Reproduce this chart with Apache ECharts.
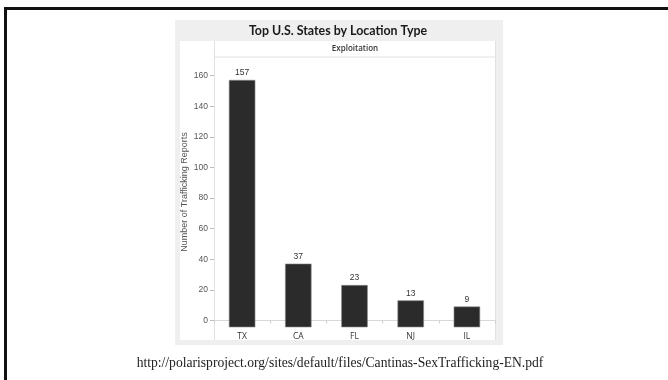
<!DOCTYPE html>
<html>
<head>
<meta charset="utf-8">
<script src="https://cdn.jsdelivr.net/npm/echarts@6/dist/echarts.min.js"></script>
<style>
  html, body { margin: 0; padding: 0; background: #fff; }
  #chart { width: 668px; height: 380px; }
</style>
</head>
<body>
<div id="chart"></div>
<script>
// Top U.S. states for exploitation reports
const states = ['TX', 'CA', 'FL', 'NJ', 'IL'];
const reports = [157, 37, 23, 13, 9];
const yTicks = [0, 20, 40, 60, 80, 100, 120, 140, 160];

const chart = echarts.init(document.getElementById('chart'));

const barData = states.map((s, i) => [i, reports[i]]);

chart.setOption({
  animation: false,
  backgroundColor: '#ffffff',
  graphic: [
    // slide frame (top and left edges)
    { type: 'rect', z: -5, shape: { x: 4, y: 7, width: 664, height: 3 }, style: { fill: '#111' } },
    { type: 'rect', z: -5, shape: { x: 4, y: 7, width: 3, height: 373 }, style: { fill: '#111' } },
    // chart panel
    { type: 'rect', z: -5, shape: { x: 175, y: 20, width: 328, height: 325 }, style: { fill: '#efefef' } },
    { type: 'rect', z: -4, shape: { x: 180, y: 41, width: 34, height: 299 }, style: { fill: '#fff' } },
    { type: 'rect', z: -4, shape: { x: 215, y: 41, width: 280, height: 299 }, style: { fill: '#fff' } },
    { type: 'line', z: -3, shape: { x1: 215, y1: 57, x2: 495, y2: 57 }, style: { stroke: '#e2e2e2', lineWidth: 1 } },
    { type: 'line', z: -3, shape: { x1: 214.5, y1: 41, x2: 214.5, y2: 340 }, style: { stroke: '#e2e2e2', lineWidth: 1 } },
    { type: 'line', z: -3, shape: { x1: 495.5, y1: 41, x2: 495.5, y2: 340 }, style: { stroke: '#e2e2e2', lineWidth: 1 } },
    { type: 'text', z: 5, style: { text: 'Top U.S. States by Location Type', x: 338, y: 31, textAlign: 'center', textVerticalAlign: 'middle', font: 'bold 12.4px Lato, sans-serif', fill: '#1a1a1a' } },
    { type: 'text', z: 5, style: { text: 'Exploitation', x: 355, y: 49, textAlign: 'center', textVerticalAlign: 'middle', font: '600 8px "Open Sans", sans-serif', fill: '#333' } },
    { type: 'text', z: 5, style: { text: 'http://polarisproject.org/sites/default/files/Cantinas-SexTrafficking-EN.pdf', x: 340, y: 363, textAlign: 'center', textVerticalAlign: 'middle', font: '13.6px "Liberation Serif", serif', fill: '#222' } }
  ],
  grid: { left: 214, right: 173, top: 57, bottom: 53 },
  xAxis: {
    type: 'category',
    data: states,
    axisLine: { show: true, lineStyle: { color: '#d8d8d8' } },
    axisTick: { show: true, length: 3, lineStyle: { color: '#d0d0d0' } },
    axisLabel: { color: '#333', fontSize: 8.5, fontFamily: '"Open Sans", sans-serif', margin: 5 }
  },
  yAxis: {
    type: 'value',
    min: -4.2,
    max: 172.2,
    name: 'Number of Trafficking Reports',
    nameLocation: 'middle',
    nameGap: 25,
    nameTextStyle: { color: '#555', fontSize: 9, fontFamily: '"Liberation Sans", Arial, sans-serif' },
    axisLine: { show: false },
    axisTick: { show: true, length: 4, lineStyle: { color: '#bbb' }, customValues: yTicks },
    axisLabel: { color: '#555', fontSize: 8.5, fontFamily: '"Liberation Sans", Arial, sans-serif', margin: 6, customValues: yTicks },
    splitLine: { show: false }
  },
  series: [{
    type: 'custom',
    data: barData,
    encode: { x: 0, y: 1 },
    renderItem: function (params, api) {
      const idx = api.value(0);
      const v = api.value(1);
      const top = api.coord([idx, v]);
      const base = params.coordSys.y + params.coordSys.height;
      const w = api.size([1, 0])[0] * 0.46;
      return {
        type: 'group',
        children: [
          {
            type: 'rect',
            shape: { x: top[0] - w / 2, y: top[1], width: w, height: base - top[1] },
            style: { fill: '#2b2b2b', stroke: '#8a8a8a', lineWidth: 0.6 }
          },
          {
            type: 'text',
            style: {
              text: String(v), x: top[0], y: top[1] - 3,
              textAlign: 'center', textVerticalAlign: 'bottom',
              font: '8.5px "Liberation Sans", Arial, sans-serif', fill: '#333'
            }
          }
        ]
      };
    }
  }]
});
</script>
</body>
</html>
